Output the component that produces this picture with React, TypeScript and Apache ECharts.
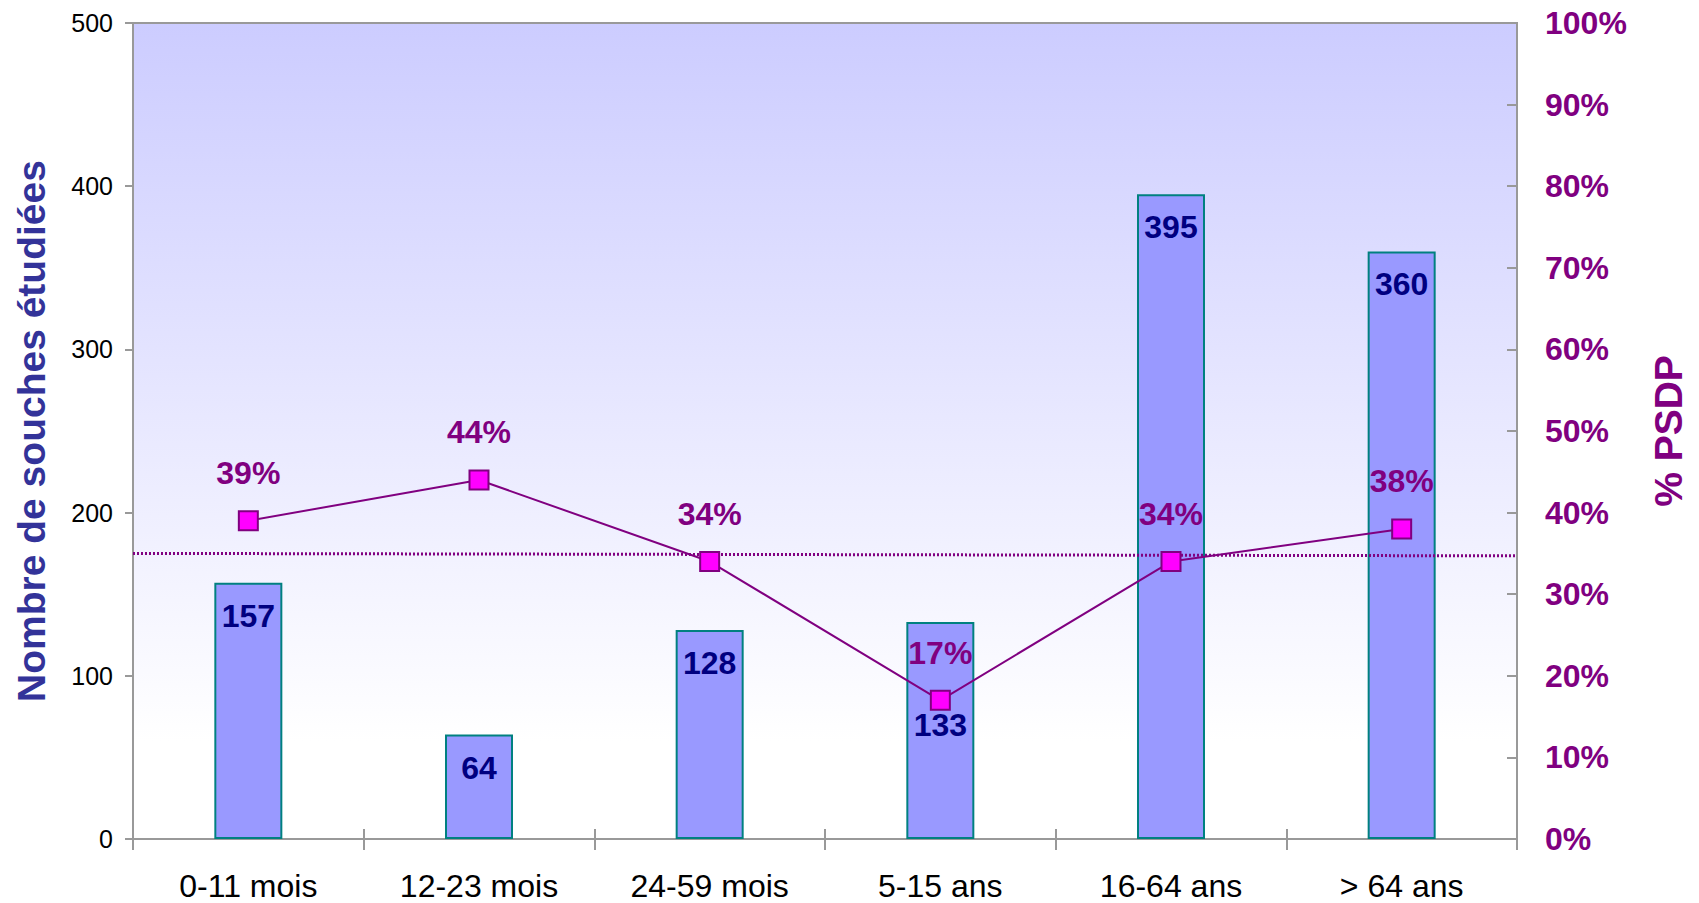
import React, { useEffect, useRef } from "react";
import * as echarts from "echarts";

// Age groups on the category axis
const ageGroups = ["0-11 mois", "12-23 mois", "24-59 mois", "5-15 ans", "16-64 ans", "> 64 ans"];
// Number of strains studied per age group (left axis)
const strainCounts = [157, 64, 128, 133, 395, 360];
// Share of PSDP per age group, in percent (right axis)
const psdpPercent = [39, 44, 34, 17, 34, 38];
// Overall PSDP reference line, start and end value in percent
const overallPsdp = [35.0, 34.7];

const FONT = "'Liberation Sans', Arial, Helvetica, sans-serif";
const AXIS_GREY = "#999999";
const PURPLE = "#800080";
const NAVY = "#000080";

export default function App() {
  const ref = useRef<HTMLDivElement>(null);

  useEffect(() => {
    document.body.style.margin = "0";
    const chart = echarts.init(ref.current!, null, { renderer: "svg" });

    const barData = strainCounts.map((v, i) =>
      // the 5-15 ans label sits lower to clear the PSDP marker
      i === 3 ? { value: v, label: { distance: 87 } } : v
    );

    chart.setOption({
      animation: false,
      backgroundColor: "#ffffff",
      textStyle: { fontFamily: FONT },
      grid: {
        left: 133,
        right: 182,
        top: 23,
        bottom: 64,
        show: true,
        borderColor: AXIS_GREY,
        borderWidth: 2,
        backgroundColor: {
          type: "linear",
          x: 0,
          y: 0,
          x2: 0,
          y2: 1,
          colorStops: [
            { offset: 0, color: "#CCCCFF" },
            { offset: 0.88, color: "#FFFFFF" },
            { offset: 1, color: "#FFFFFF" },
          ],
        },
      },
      xAxis: [
        {
          type: "category",
          position: "bottom",
          data: ageGroups,
          axisLine: { lineStyle: { color: AXIS_GREY, width: 2 } },
          axisTick: { show: true, inside: false, length: 11, lineStyle: { color: AXIS_GREY, width: 2 } },
          axisLabel: { color: "#000000", fontSize: 32, lineHeight: 30, fontFamily: FONT, margin: 32 },
        },
        {
          type: "category",
          position: "bottom",
          data: ageGroups,
          axisLine: { show: false },
          axisTick: { show: true, inside: true, length: 10, lineStyle: { color: AXIS_GREY, width: 2 } },
          axisLabel: { show: false },
        },
        {
          type: "value",
          position: "bottom",
          min: 0,
          max: 1,
          show: false,
        },
      ],
      yAxis: [
        {
          type: "value",
          position: "left",
          min: 0,
          max: 500,
          interval: 100,
          name: "Nombre de souches étudiées",
          nameLocation: "middle",
          nameGap: 82,
          nameTextStyle: { color: "#333399", fontSize: 39, fontWeight: "bold", fontFamily: FONT },
          axisLine: { show: true, lineStyle: { color: AXIS_GREY, width: 2 } },
          axisTick: { show: true, inside: false, length: 8, lineStyle: { color: AXIS_GREY, width: 2 } },
          axisLabel: { color: "#000000", fontSize: 25, fontFamily: FONT, margin: 20 },
          splitLine: { show: false },
        },
        {
          type: "value",
          position: "right",
          min: 0,
          max: 100,
          interval: 10,
          name: "% PSDP",
          nameLocation: "middle",
          nameRotate: 90,
          nameGap: 132,
          nameTextStyle: { color: PURPLE, fontSize: 39, fontWeight: "bold", fontFamily: FONT },
          axisLine: { show: true, lineStyle: { color: AXIS_GREY, width: 2 } },
          axisTick: { show: true, inside: true, length: 10, lineStyle: { color: AXIS_GREY, width: 2 } },
          axisLabel: {
            color: PURPLE,
            fontSize: 32,
            fontWeight: "bold",
            fontFamily: FONT,
            margin: 28,
            formatter: "{value}%",
          },
          splitLine: { show: false },
        },
      ],
      series: [
        {
          type: "bar",
          xAxisIndex: 0,
          yAxisIndex: 0,
          data: barData,
          barWidth: 68,
          itemStyle: { color: "#9999FF", borderColor: "#008080", borderWidth: 2 },
          label: {
            show: true,
            position: "insideTop",
            distance: 17,
            color: NAVY,
            fontSize: 32,
            fontWeight: "bold",
            fontFamily: FONT,
          },
          z: 2,
        },
        {
          type: "line",
          xAxisIndex: 2,
          yAxisIndex: 1,
          data: overallPsdp.map((v, i) => [i, v]),
          symbol: "none",
          silent: true,
          lineStyle: { color: PURPLE, width: 3, type: [2, 2] },
          z: 3,
        },
        {
          type: "line",
          xAxisIndex: 0,
          yAxisIndex: 1,
          data: psdpPercent,
          symbol: "rect",
          symbolSize: 19,
          itemStyle: { color: "#FF00FF", borderColor: PURPLE, borderWidth: 2 },
          lineStyle: { color: PURPLE, width: 2 },
          label: {
            show: true,
            position: "top",
            distance: 21,
            formatter: "{c}%",
            color: PURPLE,
            fontSize: 32,
            fontWeight: "bold",
            fontFamily: FONT,
          },
          z: 4,
        },
      ],
    });

    return () => chart.dispose();
  }, []);

  return (
    <div
      ref={ref}
      style={{ position: "fixed", left: 0, top: 0, width: 1699, height: 903, background: "#fff" }}
    />
  );
}
